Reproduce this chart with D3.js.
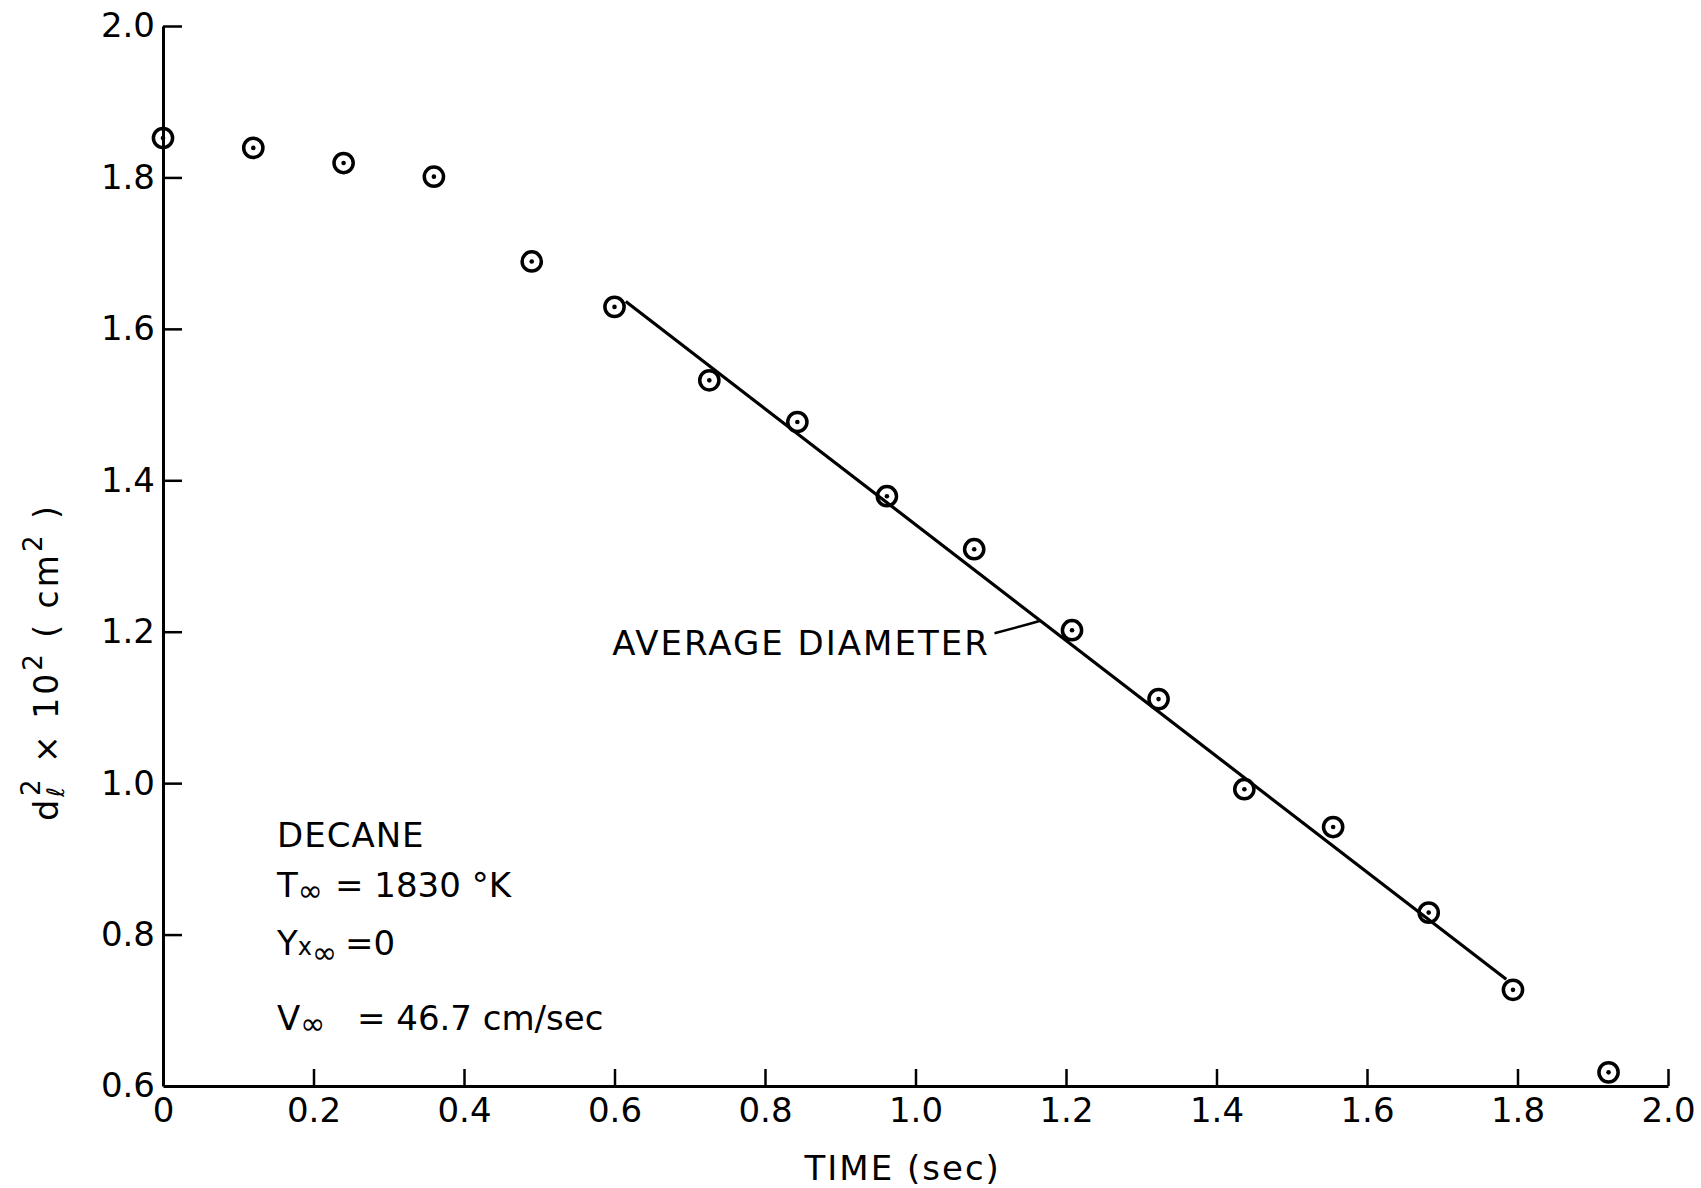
<!DOCTYPE html>
<html>
<head>
<meta charset="utf-8">
<script src="https://cdn.jsdelivr.net/npm/d3@7"></script>
<style>
  body { margin: 0; background: #fff; }
  svg { display: block; }
  text { font-family: "DejaVu Sans", sans-serif; fill: #000; }
</style>
</head>
<body>
<div id="chartContainer"></div>
<script>
// measured droplet data (time in sec, d^2 x 10^2 in cm^2)
var times = [0, 0.12, 0.24, 0.36, 0.49, 0.60, 0.726, 0.843, 0.962, 1.078, 1.208, 1.323, 1.437, 1.555, 1.682, 1.794, 1.921];
var diamSq = [1.852, 1.839, 1.819, 1.801, 1.689, 1.629, 1.532, 1.477, 1.379, 1.309, 1.202, 1.111, 0.992, 0.942, 0.829, 0.727, 0.618];

// "average diameter" straight line, end points
var fitTimes = [0.615, 1.785];
var fitValues = [1.636, 0.741];

var xTicks = [0, 0.2, 0.4, 0.6, 0.8, 1.0, 1.2, 1.4, 1.6, 1.8, 2.0];
var xTickLabels = ["0", "0.2", "0.4", "0.6", "0.8", "1.0", "1.2", "1.4", "1.6", "1.8", "2.0"];
var yTicks = [0.6, 0.8, 1.0, 1.2, 1.4, 1.6, 1.8, 2.0];
var yTickLabels = ["0.6", "0.8", "1.0", "1.2", "1.4", "1.6", "1.8", "2.0"];

var attrs = {
    width: 1701,
    height: 1188,
    left: 163, right: 1668, top: 26, bottom: 1086,
    fontSize: 34
};

var x = d3.scaleLinear().domain([0, 2.0]).range([attrs.left, attrs.right]);
var y = d3.scaleLinear().domain([0.6, 2.0]).range([attrs.bottom, attrs.top]);

var svg = d3.select("#chartContainer")
    .append("svg")
    .attr("width", attrs.width)
    .attr("height", attrs.height);

//axes
var xAxis = d3.axisBottom(x)
    .tickValues(xTicks)
    .tickFormat(function (d, i) { return xTickLabels[i]; })
    .tickSizeInner(-17)
    .tickSizeOuter(0)
    .tickPadding(12);
var yAxis = d3.axisLeft(y)
    .tickValues(yTicks)
    .tickFormat(function (d, i) { return yTickLabels[i]; })
    .tickSizeInner(-19)
    .tickSizeOuter(0)
    .tickPadding(8);

var gx = svg.append("g")
    .attr("transform", "translate(0," + attrs.bottom + ")")
    .call(xAxis);
var gy = svg.append("g")
    .attr("transform", "translate(" + attrs.left + ",0)")
    .call(yAxis);

[gx, gy].forEach(function (g) {
    g.select(".domain").attr("stroke", "#000").attr("stroke-width", 3);
    g.selectAll(".tick line").attr("stroke", "#000").attr("stroke-width", 2.5);
    g.selectAll(".tick text")
        .style("font-family", "DejaVu Sans, sans-serif")
        .attr("font-size", attrs.fontSize)
        .attr("fill", "#000");
});
// no extra tick at the corner
gx.selectAll(".tick").filter(function (d) { return d === 0; }).select("line").remove();
gy.selectAll(".tick").filter(function (d) { return d === 0.6; }).select("line").remove();

//axis titles
svg.append("text")
    .attr("x", x(0.983))
    .attr("y", 1180)
    .attr("text-anchor", "middle")
    .attr("font-size", attrs.fontSize)
    .attr("letter-spacing", 2)
    .text("TIME (sec)");

var yTitle = svg.append("text")
    .attr("transform", "translate(58," + y(1.16) + ") rotate(-90)")
    .attr("text-anchor", "middle")
    .attr("font-size", 33)
    .attr("letter-spacing", 3);
yTitle.append("tspan").text("d");
yTitle.append("tspan").attr("font-size", 24).attr("dy", 6).text("\u2113");
yTitle.append("tspan").attr("font-size", 26).attr("dx", -12).attr("dy", -24).text("2");
yTitle.append("tspan").attr("dy", 18).text(" \u00d7 10");
yTitle.append("tspan").attr("font-size", 26).attr("dy", -16).text("2");
yTitle.append("tspan").attr("dy", 16).text(" ( cm");
yTitle.append("tspan").attr("font-size", 26).attr("dy", -16).text("2");
yTitle.append("tspan").attr("dy", 16).text(" )");

//fitted line
var fitData = fitTimes.map(function (t, i) { return [t, fitValues[i]]; });
var line = d3.line()
    .x(function (d) { return x(d[0]); })
    .y(function (d) { return y(d[1]); });
svg.append("path")
    .datum(fitData)
    .attr("d", line)
    .attr("fill", "none")
    .attr("stroke", "#000")
    .attr("stroke-width", 3.2);

//points: circle with center dot
var points = times.map(function (t, i) { return { t: t, v: diamSq[i] }; });
var pt = svg.selectAll(".pt")
    .data(points)
    .enter()
    .append("g")
    .classed("pt", true)
    .attr("transform", function (d) { return "translate(" + [x(d.t), y(d.v)] + ")"; });
pt.append("circle")
    .attr("r", 9.6)
    .attr("fill", "none")
    .attr("stroke", "#000")
    .attr("stroke-width", 3.5);
pt.append("circle")
    .attr("r", 2.3)
    .attr("fill", "#000");

//label for the line with a leader
var fitAt = function (t) {
    var k = (fitValues[1] - fitValues[0]) / (fitTimes[1] - fitTimes[0]);
    return fitValues[0] + k * (t - fitTimes[0]);
};
svg.append("text")
    .attr("x", x(0.597))
    .attr("y", y(1.169))
    .attr("font-size", attrs.fontSize)
    .attr("letter-spacing", 2)
    .text("AVERAGE DIAMETER");
var leadFrom = [1.105, 1.198];
var leadTo = [1.166, fitAt(1.166)];
svg.append("path")
    .attr("d", "M" + x(leadFrom[0]) + "," + y(leadFrom[1]) +
        "Q" + x(1.14) + "," + y(1.207) + " " + x(leadTo[0]) + "," + y(leadTo[1]))
    .attr("fill", "none")
    .attr("stroke", "#000")
    .attr("stroke-width", 2.5);

//conditions block
var note = svg.append("g")
    .attr("transform", "translate(" + x(0.1515) + "," + y(0.9156) + ")")
    .attr("font-size", attrs.fontSize);
note.append("text").attr("letter-spacing", 1).text("DECANE");

var t1 = note.append("text").attr("y", 50);
t1.append("tspan").text("T");
t1.append("tspan").attr("font-size", 30).attr("dy", 4).text("\u221e");
t1.append("tspan").attr("x", 58).attr("dy", -4).text("= 1830 \u00b0K");

var t2 = note.append("text").attr("y", 108);
t2.append("tspan").text("Y");
t2.append("tspan").attr("font-size", 24).text("x");
t2.append("tspan").attr("font-size", 30).attr("dy", 8).text("\u221e");
t2.append("tspan").attr("x", 68).attr("dy", -8).text("=0");

var t3 = note.append("text").attr("y", 183);
t3.append("tspan").text("V");
t3.append("tspan").attr("font-size", 30).attr("dy", 4).text("\u221e");
t3.append("tspan").attr("x", 80).attr("dy", -4).text("= 46.7 cm/sec");
</script>
</body>
</html>
